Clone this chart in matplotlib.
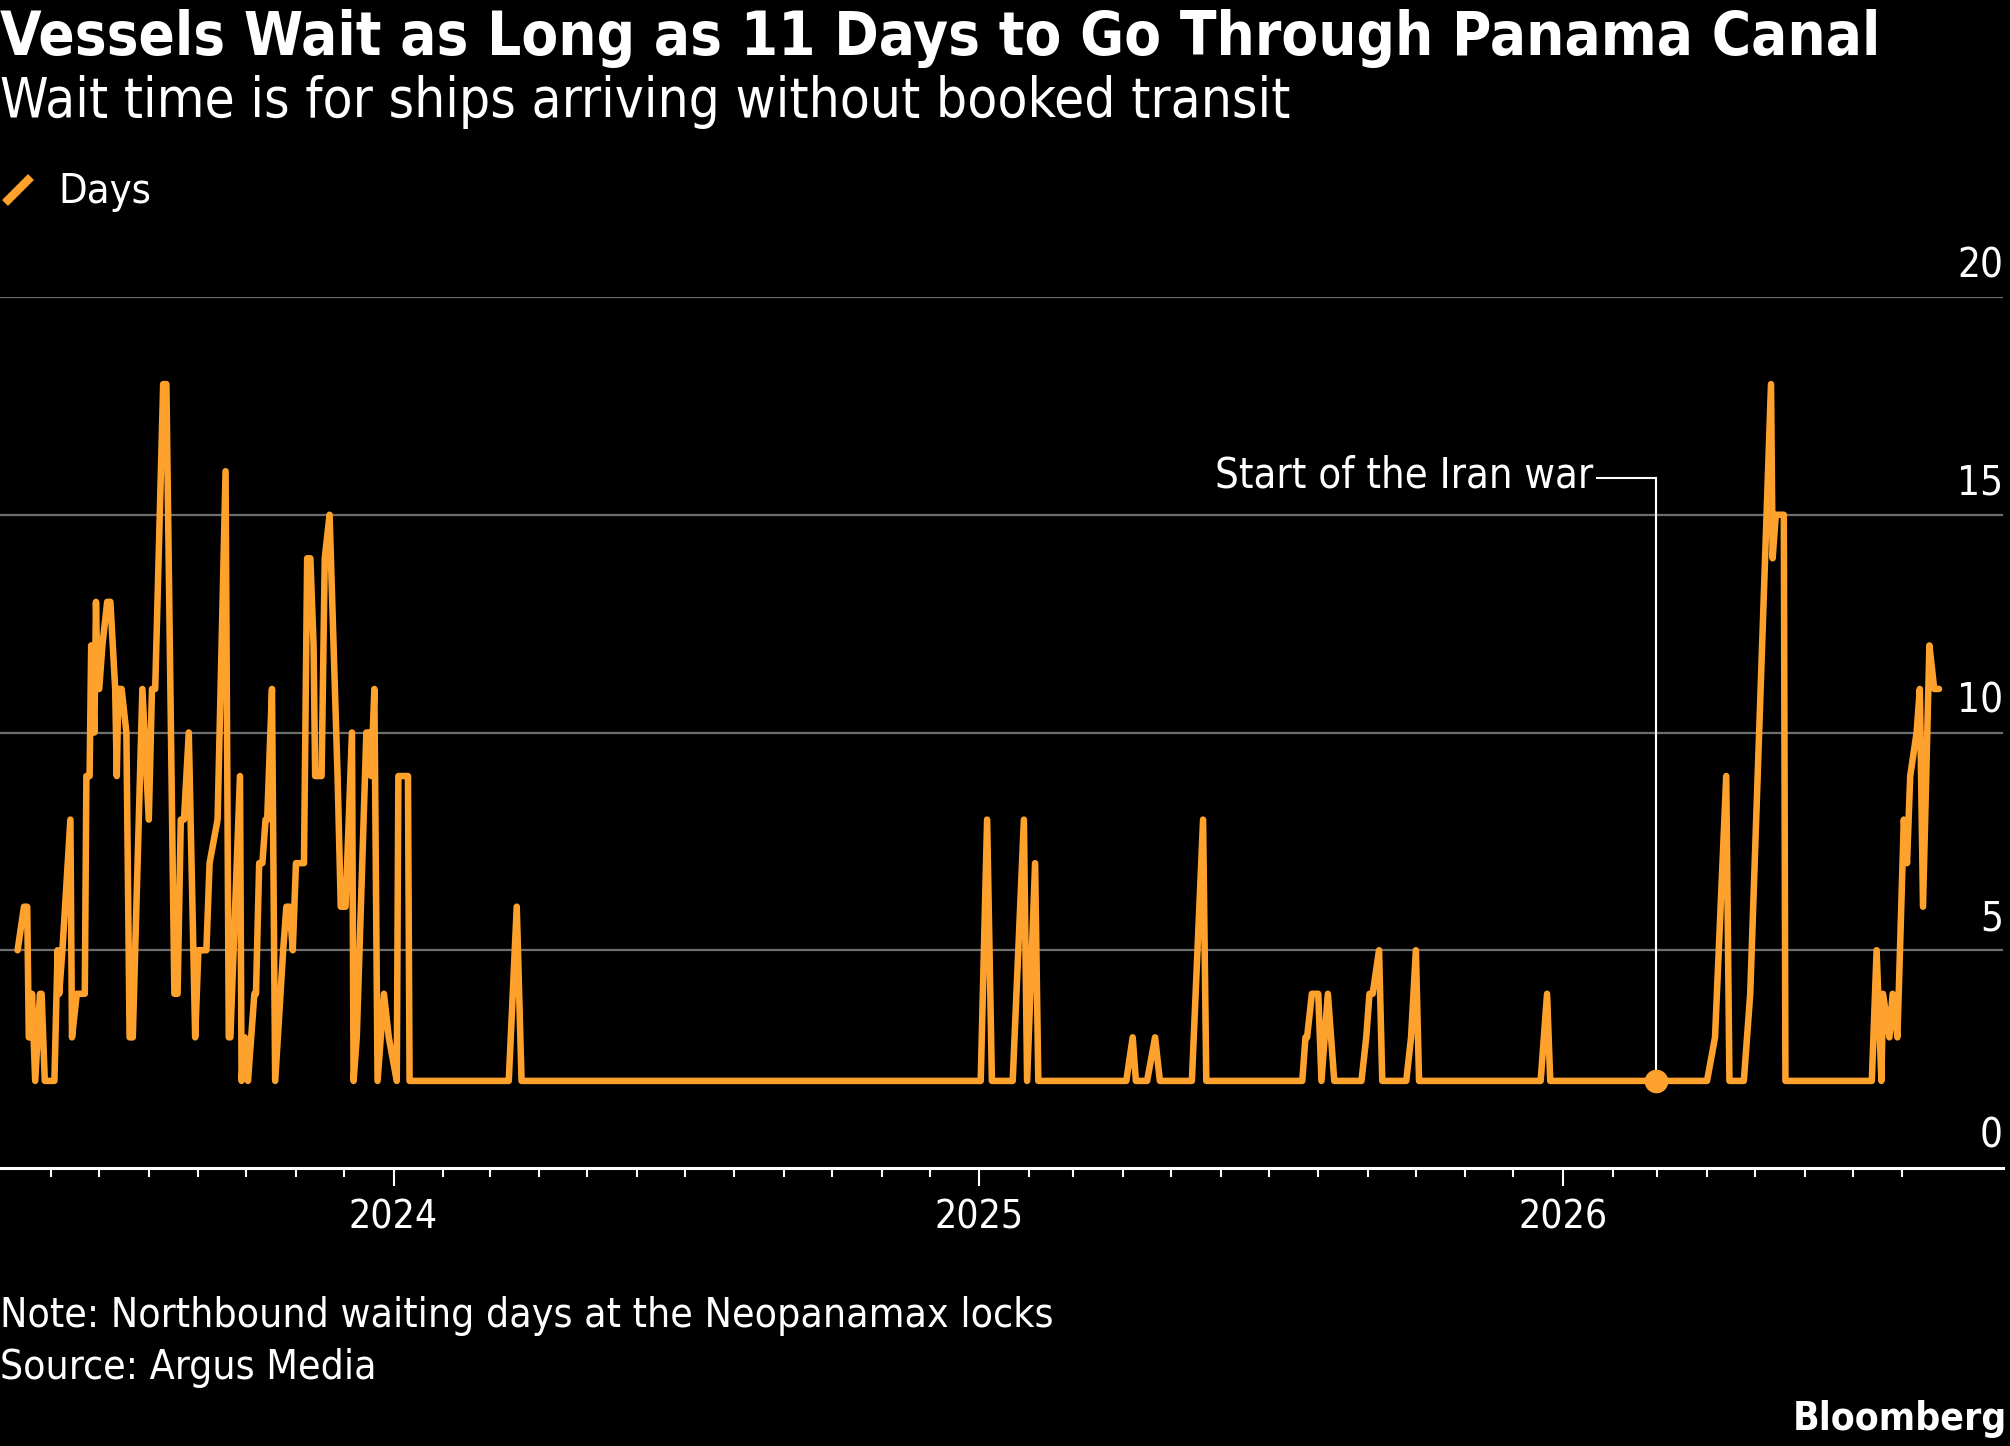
import os
import pandas as pd
import matplotlib
matplotlib.use("Agg")
import matplotlib.pyplot as plt
import matplotlib.dates as mdates
from matplotlib import font_manager as fm
from matplotlib.lines import Line2D
from matplotlib.transforms import blended_transform_factory, offset_copy

# Northbound waiting days at the Neopanamax locks
dates = [
    "2023-05-11", "2023-05-15", "2023-05-17", "2023-05-18", "2023-05-19", "2023-05-20",
    "2023-05-22", "2023-05-25", "2023-05-26", "2023-05-28", "2023-06-03", "2023-06-05",
    "2023-06-06", "2023-06-08", "2023-06-13", "2023-06-14", "2023-06-17", "2023-06-22",
    "2023-06-23", "2023-06-25", "2023-06-26", "2023-06-28", "2023-06-29", "2023-06-30",
    "2023-07-01", "2023-07-03", "2023-07-06", "2023-07-08", "2023-07-11", "2023-07-12",
    "2023-07-13", "2023-07-15", "2023-07-18", "2023-07-20", "2023-07-22", "2023-07-28",
    "2023-08-01", "2023-08-03", "2023-08-05", "2023-08-10", "2023-08-12", "2023-08-17",
    "2023-08-19", "2023-08-21", "2023-08-23", "2023-08-26", "2023-08-30", "2023-09-01",
    "2023-09-06", "2023-09-07", "2023-09-08", "2023-09-13", "2023-09-18", "2023-09-20",
    "2023-09-21", "2023-09-27", "2023-09-28", "2023-09-30", "2023-10-02", "2023-10-06",
    "2023-10-07", "2023-10-09", "2023-10-11", "2023-10-13", "2023-10-14", "2023-10-17",
    "2023-10-19", "2023-10-24", "2023-10-26", "2023-10-28", "2023-10-30", "2023-11-01",
    "2023-11-06", "2023-11-08", "2023-11-10", "2023-11-12", "2023-11-13", "2023-11-17",
    "2023-11-19", "2023-11-22", "2023-11-27", "2023-11-29", "2023-12-02", "2023-12-06",
    "2023-12-07", "2023-12-09", "2023-12-15", "2023-12-17", "2023-12-18", "2023-12-20",
    "2023-12-22", "2023-12-26", "2023-12-29", "2024-01-03", "2024-01-04", "2024-01-10",
    "2024-01-11", "2024-03-13", "2024-03-18", "2024-03-21", "2025-01-02", "2025-01-06",
    "2025-01-09", "2025-01-22", "2025-01-29", "2025-01-31", "2025-02-05", "2025-02-07",
    "2025-04-03", "2025-04-07", "2025-04-09", "2025-04-16", "2025-04-21", "2025-04-24",
    "2025-05-14", "2025-05-21", "2025-05-23", "2025-07-22", "2025-07-24", "2025-07-25",
    "2025-07-28", "2025-08-01", "2025-08-03", "2025-08-07", "2025-08-11", "2025-08-28",
    "2025-08-31", "2025-09-02", "2025-09-04", "2025-09-08", "2025-09-10", "2025-09-25",
    "2025-09-28", "2025-10-01", "2025-10-03", "2025-12-18", "2025-12-22", "2025-12-24",
    "2026-04-01", "2026-04-06", "2026-04-13", "2026-04-15", "2026-04-24", "2026-04-28",
    "2026-05-11", "2026-05-12", "2026-05-14", "2026-05-19", "2026-05-20", "2026-07-13",
    "2026-07-16", "2026-07-19", "2026-07-20", "2026-07-24", "2026-07-26", "2026-07-29",
    "2026-08-02", "2026-08-04", "2026-08-06", "2026-08-10", "2026-08-12", "2026-08-14",
    "2026-08-18", "2026-08-21", "2026-08-24",
]
days = [
    5, 6, 6, 3, 3, 4,
    2, 4, 4, 2, 2, 5,
    4, 5, 8, 3, 4, 4,
    9, 9, 12, 10, 13, 11,
    11, 12, 13, 13, 11, 9,
    11, 11, 10, 3, 3, 11,
    8, 11, 11, 18, 18, 4,
    4, 8, 8, 10, 3, 5,
    5, 6, 7, 8, 16, 3,
    3, 9, 2, 3, 2, 4,
    4, 7, 7, 8, 8, 11,
    2, 5, 6, 6, 5, 7,
    7, 14, 14, 12, 9, 9,
    14, 15, 9, 6, 6, 10,
    2, 3, 10, 10, 9, 11,
    2, 4, 3, 2, 9, 9,
    2, 2, 6, 2, 2, 8,
    2, 2, 8, 2, 7, 2,
    2, 3, 2, 2, 3, 2,
    2, 8, 2, 2, 3, 3,
    4, 4, 2, 4, 2, 2,
    3, 4, 4, 5, 2, 2,
    3, 5, 2, 2, 4, 2,
    2, 3, 9, 2, 2, 4,
    18, 14, 15, 15, 2, 2,
    5, 2, 4, 3, 4, 3,
    8, 7, 9, 10, 11, 6,
    12, 11, 11,
]

war_date = "2026-02-28"
war_days = 2
war_label = "Start of the Iran war"

y_ticks = [0, 5, 10, 15, 20]
grid_levels = [5, 10, 15, 20]

title = "Vessels Wait as Long as 11 Days to Go Through Panama Canal"
subtitle = "Wait time is for ships arriving without booked transit"
legend_label = "Days"
note = "Note: Northbound waiting days at the Neopanamax locks"
source = "Source: Argus Media"
brand = "Bloomberg"

ORANGE = "#ffa22d"
GRID = "#6e6e6e"
W, H = 2010, 1446


# %%
# fonts: prefer the condensed DejaVu cut, fall back to the normal one
def find_font(filename):
    for f in fm.fontManager.ttflist:
        if os.path.basename(f.fname) == filename:
            return f.fname
    return None


reg_file = find_font("DejaVuSansCondensed.ttf")
bold_file = find_font("DejaVuSansCondensed-Bold.ttf")


def font(size, bold=False):
    path = bold_file if bold else reg_file
    if path:
        return fm.FontProperties(fname=path, size=size)
    return fm.FontProperties(family="DejaVu Sans", weight="bold" if bold else "normal", size=size * 0.9)


# %%
df = pd.DataFrame({"date": pd.to_datetime(dates), "days": days})

fig = plt.figure(figsize=(W / 100, H / 100), dpi=100, facecolor="black")
ax_bottom, ax_top = 1168, 297
ax = fig.add_axes([0, 1 - ax_bottom / H, 2003 / W, (ax_bottom - ax_top) / H])
ax.set_facecolor("black")

for lvl in grid_levels:
    ax.axhline(lvl, color=GRID, lw=1.6, zorder=1)

ax.plot(df["date"], df["days"], color=ORANGE, lw=4.7,
        solid_joinstyle="round", solid_capstyle="round", zorder=3)

ax.set_xlim(pd.Timestamp("2023-04-30"), pd.Timestamp("2026-10-03"))
ax.set_ylim(0, 20)

for side in ["top", "left", "right"]:
    ax.spines[side].set_visible(False)
ax.spines["bottom"].set_color("white")
ax.spines["bottom"].set_linewidth(2.2)
ax.spines["bottom"].set_zorder(4)

# x ticks: months minor, years major
months = pd.date_range("2023-06-01", "2026-08-01", freq="MS")
years = [m for m in months if m.month == 1]
ax.set_xticks([m for m in months if m.month != 1], minor=True)
ax.set_xticks(years)
ax.xaxis.set_major_formatter(mdates.DateFormatter("%Y"))
ax.tick_params(axis="x", which="major", length=13, width=1.5, color="white",
               pad=9, labelcolor="white")
ax.tick_params(axis="x", which="minor", length=6.5, width=1.5, color="white")
for lab in ax.get_xticklabels():
    lab.set_fontproperties(font(28))

ax.set_yticks([])
ylab_tr = offset_copy(blended_transform_factory(ax.transAxes, ax.transData),
                      fig=fig, x=0, y=20, units="dots")
for v in y_ticks:
    ax.text(1.0, v, str(v), transform=ylab_tr, ha="right", va="baseline",
            color="white", fontproperties=font(29), clip_on=False)

# annotation for the start of the war
wd = pd.Timestamp(war_date)
corner_y = 15.85
ax.plot([wd, wd], [war_days, corner_y], color="white", lw=1.5, zorder=2)
ax.plot([wd - pd.Timedelta(days=37), wd], [corner_y, corner_y], color="white", lw=1.5, zorder=2)
ax.text(wd - pd.Timedelta(days=39), 15.62, war_label, ha="right", va="baseline",
        color="white", fontproperties=font(30))
ax.plot([wd], [war_days], "o", color=ORANGE, ms=16, zorder=5)

# header
fig.text(0, 1 - 55 / H, title, color="white", fontproperties=font(43, bold=True),
         ha="left", va="baseline")
fig.text(0, 1 - 117 / H, subtitle, color="white", fontproperties=font(39.3),
         ha="left", va="baseline")
fig.add_artist(Line2D([5 / W, 31 / W], [1 - 203 / H, 1 - 177 / H], color=ORANGE,
                      lw=6, solid_capstyle="butt", transform=fig.transFigure))
fig.text(58 / W, 1 - 203 / H, legend_label, color="white", fontproperties=font(29.8),
         ha="left", va="baseline")

# footer
fig.text(0, 1 - 1327 / H, note, color="white", fontproperties=font(29.3),
         ha="left", va="baseline")
fig.text(0, 1 - 1379 / H, source, color="white", fontproperties=font(29.3),
         ha="left", va="baseline")
fig.text(2007 / W, 1 - 1430 / H, brand, color="white", fontproperties=font(28, bold=True),
         ha="right", va="baseline")

fig.savefig("out.png", dpi=100, facecolor="black")
